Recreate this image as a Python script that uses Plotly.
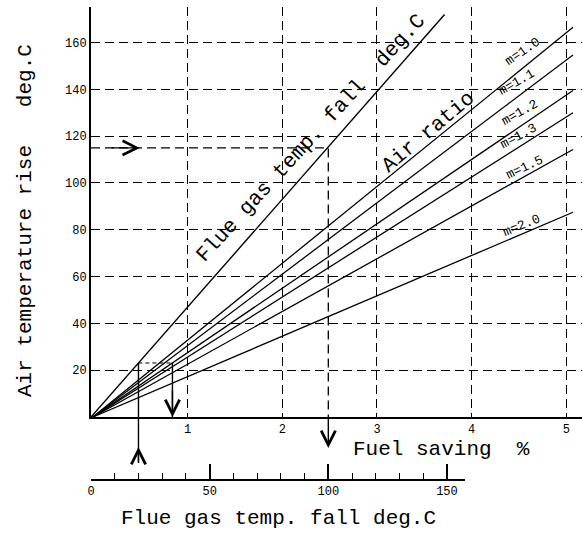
import plotly.graph_objects as go

# ---------------- data ----------------
# air-ratio lines: fuel saving (%) vs air temperature rise (deg.C)
air_ratio_labels = ["m=1.0", "m=1.1", "m=1.2", "m=1.3", "m=1.5", "m=2.0"]
air_ratio_x = [0.0, 5.07]
air_ratio_end_y = [166.5, 154.7, 139.5, 130.0, 114.3, 87.5]

# flue gas temp. fall line: flue gas temp fall (deg.C, lower scale) vs air temp rise
flue_line_x = [0.0, 149.0]
flue_line_y = [0.0, 172.0]

# worked example 1: air temp rise 115 -> flue gas temp fall 100
ex1_flue = [0.0, 100.0, 100.0]
ex1_air = [115.0, 115.0, 0.0]

# worked example 2: flue gas temp fall 20 -> air temp rise 23.1 -> fuel saving 0.84 %
ex2_up_flue = [20.0, 20.0]
ex2_up_air = [0.0, 23.1]
ex2_box_fuel = [0.48, 0.84, 0.84]
ex2_box_air = [23.1, 23.1, 0.0]

fuel_ticks = [1, 2, 3, 4, 5]
air_ticks = [20, 40, 60, 80, 100, 120, 140, 160]
flue_ticks = [0, 50, 100, 150]

# label placement (data coords of main axes) and tilt
m_label_x = [4.54, 4.47, 4.51, 4.49, 4.56, 4.53]
m_label_y = [156.3, 143.0, 130.3, 120.0, 106.8, 82.0]
m_label_angle = [34, 30, 29, 28, 25, 22]

# ---------------- layout constants ----------------
W, H = 582, 533
ML, MR, MT, MB = 91, 0, 7, 53
PH = H - MT - MB          # paper height (px)
PW = W - ML - MR          # paper width (px)
AX_Y = 417                # pixel row of main x axis
BOT_Y = H - MB            # pixel row of lower scale


def py(p):
    """pixel row -> paper fraction"""
    return (BOT_Y - p) / PH


def px(p):
    """pixel column -> paper fraction"""
    return (p - ML) / PW


MONO = "Liberation Mono"
BLK = "black"

fig = go.Figure()

for lab, yend in zip(air_ratio_labels, air_ratio_end_y):
    fig.add_trace(go.Scatter(x=air_ratio_x, y=[0.0, yend], mode="lines",
                             line=dict(color=BLK, width=1.3), name=lab,
                             xaxis="x", yaxis="y", hoverinfo="skip"))

fig.add_trace(go.Scatter(x=flue_line_x, y=flue_line_y, mode="lines",
                         line=dict(color=BLK, width=1.4), name="Flue gas temp. fall",
                         xaxis="x2", yaxis="y", hoverinfo="skip"))

fig.add_trace(go.Scatter(x=ex1_flue, y=ex1_air, mode="lines",
                         line=dict(color=BLK, width=1.3, dash="9px,5px"),
                         xaxis="x2", yaxis="y", hoverinfo="skip"))

fig.add_trace(go.Scatter(x=ex2_up_flue, y=ex2_up_air, mode="lines",
                         line=dict(color=BLK, width=1.4),
                         xaxis="x2", yaxis="y", hoverinfo="skip"))

fig.add_trace(go.Scatter(x=ex2_box_fuel[:2], y=ex2_box_air[:2], mode="lines",
                         line=dict(color=BLK, width=1.1, dash="4px,3px"),
                         xaxis="x", yaxis="y", hoverinfo="skip"))
fig.add_trace(go.Scatter(x=ex2_box_fuel[1:], y=ex2_box_air[1:], mode="lines",
                         line=dict(color=BLK, width=1.4),
                         xaxis="x", yaxis="y", hoverinfo="skip"))

grid = dict(showgrid=True, gridcolor=BLK, gridwidth=1.4, griddash="9px,5px")

fig.update_layout(
    width=W, height=H,
    margin=dict(l=ML, r=MR, t=MT, b=MB, pad=0),
    paper_bgcolor="white", plot_bgcolor="rgba(0,0,0,0)",
    showlegend=False,
    font=dict(family=MONO, color=BLK),
    xaxis=dict(domain=[0, 1], range=[-0.02, 5.165], anchor="y",
               tickmode="array", tickvals=fuel_ticks,
               ticktext=[str(v) for v in fuel_ticks],
               ticks="", tickfont=dict(size=12, family=MONO),
               showline=True, linecolor=BLK, linewidth=1.8,
               zeroline=False, **grid),
    yaxis=dict(domain=[py(AX_Y), 1], range=[0, 175.2], anchor="x",
               tickmode="array", tickvals=air_ticks,
               ticks="", tickfont=dict(size=12, family=MONO),
               showline=True, linecolor=BLK, linewidth=1.8,
               zeroline=False, **grid),
    xaxis2=dict(domain=[0, px(465)], range=[0, 157.6], anchor="free", position=0,
                tickmode="array", tickvals=flue_ticks,
                ticks="inside", ticklen=15, tickwidth=1.5, tickcolor=BLK,
                minor=dict(tickmode="linear", tick0=0, dtick=10, ticks="inside",
                           ticklen=6, tickwidth=1.2, tickcolor=BLK),
                tickfont=dict(size=12, family=MONO),
                showline=True, linecolor=BLK, linewidth=1.6,
                showgrid=False, zeroline=False),
)

NB = "\u00a0"
C = dict(xanchor="center", yanchor="middle", showarrow=False)
ann = []
# rotated labels
ann.append(dict(text="Flue gas temp. fall" + NB * 2 + "deg.C", x=2.30, y=119.2,
                xref="x", yref="y", textangle=-47.5,
                font=dict(size=21, family=MONO), **C))
ann.append(dict(text="Air ratio", x=3.54, y=121.4, xref="x", yref="y",
                textangle=-40, font=dict(size=21, family=MONO), **C))
for lab, lx, ly, ang in zip(air_ratio_labels, m_label_x, m_label_y, m_label_angle):
    ann.append(dict(text=lab, x=lx, y=ly, xref="x", yref="y", textangle=-ang,
                    font=dict(size=13, family=MONO), **C))
# axis titles
ann.append(dict(text="Fuel saving" + NB * 2 + "%", x=px(441), y=py(449),
                xref="paper", yref="paper",
                font=dict(size=21, family=MONO), **C))
ann.append(dict(text="Air temperature rise" + NB * 3 + "deg.C", x=px(25), y=py(221),
                xref="paper", yref="paper", textangle=-90,
                font=dict(size=21, family=MONO), **C))
ann.append(dict(text="Flue gas temp. fall deg.C", x=px(278), y=py(518),
                xref="paper", yref="paper",
                font=dict(size=21, family=MONO), **C))

arrow = dict(showarrow=True, arrowhead=5, arrowsize=2.0, arrowwidth=1.4,
             arrowcolor=BLK, text="")
# example 1: right-pointing head on 115 line, down arrow to lower scale at 100
ann.append(dict(x=20.6, y=115, xref="x2", yref="y", ax=8, ay=115,
                axref="x2", ayref="y", **arrow))
ann.append(dict(x=ex1_flue[1], y=py(448), xref="x2", yref="paper",
                ax=0, ay=-(448 - AX_Y), **arrow))
# example 2: up arrow from lower scale at 20, down arrow to fuel saving
ann.append(dict(x=ex2_up_flue[0], y=py(447), xref="x2", yref="paper",
                ax=0, ay=16, **arrow))
ann.append(dict(x=ex2_box_fuel[2], y=0, xref="x", yref="y",
                ax=ex2_box_fuel[2], ay=12, axref="x", ayref="y", **arrow))
fig.update_layout(annotations=ann)

fig.add_shape(type="line", xref="x2", yref="paper",
              x0=ex2_up_flue[0], x1=ex2_up_flue[0], y0=py(463), y1=py(AX_Y),
              line=dict(color=BLK, width=1.4))

fig.write_html("out.html",
               config={"displayModeBar": False},
               post_script="document.body.style.margin='0';"
                           "document.body.style.overflow='hidden';")
